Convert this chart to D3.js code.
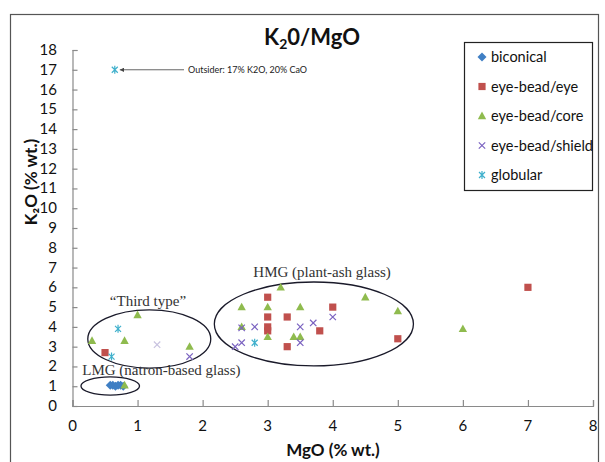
<!DOCTYPE html>
<html>
<head>
<meta charset="utf-8">
<script src="https://cdn.jsdelivr.net/npm/d3@7"></script>
<style>
  html, body { margin: 0; padding: 0; background: #fff; }
  svg { display: block; }
</style>
</head>
<body>
<svg id="chart" width="605" height="462"></svg>
<script>
// MgO vs K2O (% wt.) per bead group
const biconical = [[0.58, 1.05], [0.62, 1.05], [0.66, 1.0], [0.70, 1.05], [0.74, 1.05], [0.78, 1.0]];
const eyeBeadEye = [[0.5, 2.7], [3.0, 5.5], [3.0, 4.5], [3.3, 4.5], [4.0, 5.0], [3.0, 4.0], [3.0, 3.8],
                    [3.8, 3.8], [3.3, 3.0], [5.0, 3.4], [7.0, 6.0]];
const eyeBeadCore = [[0.8, 1.05], [0.3, 3.3], [0.8, 3.3], [1.0, 4.6], [1.8, 3.0], [3.2, 6.0], [4.5, 5.5],
                     [2.6, 5.0], [3.0, 5.0], [3.5, 5.0], [5.0, 4.8], [2.6, 4.0], [3.0, 3.5], [3.4, 3.5],
                     [3.5, 3.5], [6.0, 3.9]];
const eyeBeadShield = [[1.8, 2.5], [2.6, 3.95], [2.8, 4.0], [3.5, 4.0], [3.7, 4.2], [4.0, 4.5],
                       [2.6, 3.2], [3.5, 3.2], [2.5, 3.0]];
const eyeBeadShieldFaint = [[1.3, 3.1]];
const globular = [[0.65, 17.0], [0.7, 3.9], [0.6, 2.5], [2.8, 3.2]];

const xTicks = [0, 1, 2, 3, 4, 5, 6, 7, 8];
const yTicks = d3.range(0, 19);

// Group outlines (centre and radii in data units)
const groups = [
  { label: "\u201CThird type\u201D", cx: 1.18, cy: 3.39, rx: 0.945, ry: 1.47, lx: 1.16, ly: 5.05, anchor: "middle" },
  { label: "LMG (natron-based glass)", cx: 0.58, cy: 1.01, rx: 0.45, ry: 0.46, lx: 0.15, ly: 1.57, anchor: "start" },
  { label: "HMG (plant-ash glass)", cx: 3.71, cy: 4.15, rx: 1.53, ry: 2.12, lx: 2.78, ly: 6.5, anchor: "start" }
];

const series = [
  { name: "biconical", data: biconical, color: "#3f7fc4", shape: "diamond" },
  { name: "eye-bead/eye", data: eyeBeadEye, color: "#c0504d", shape: "square" },
  { name: "eye-bead/core", data: eyeBeadCore, color: "#8fbb4e", shape: "triangle" },
  { name: "eye-bead/shield", data: eyeBeadShield, color: "#7a62c0", shape: "cross" },
  { name: "globular", data: globular, color: "#3fb0cc", shape: "star" }
];

const svg = d3.select("#chart");
const sans = "Lato, 'Open Sans', sans-serif";
const serif = "'Liberation Serif', 'DejaVu Serif', serif";

// outer frame
svg.append("rect")
  .attr("x", 10.5).attr("y", 14.5).attr("width", 588).attr("height", 470)
  .attr("fill", "none").attr("stroke", "#555").attr("stroke-width", 1.2);

const x = d3.scaleLinear().domain([0, 8]).range([72.5, 593]);
const y = d3.scaleLinear().domain([0, 18]).range([406, 50]);

// axes (inside ticks)
const axisColor = "#8a8a8a";
const gx = svg.append("g").attr("transform", `translate(0,${y(0)})`)
  .call(d3.axisTop(x).tickValues(xTicks).tickSize(6).tickFormat(""));
const gy = svg.append("g").attr("transform", `translate(${x(0)},0)`)
  .call(d3.axisRight(y).tickValues(yTicks).tickSize(5).tickFormat(""));
[gx, gy].forEach(g => {
  g.selectAll("path").attr("stroke", axisColor).attr("stroke-width", 1.2);
  g.selectAll("line").attr("stroke", axisColor).attr("stroke-width", 1.2);
});

svg.append("g").selectAll("text").data(xTicks).join("text")
  .attr("x", d => x(d)).attr("y", 431)
  .attr("text-anchor", "middle")
  .attr("font-family", sans).attr("font-size", 15).attr("fill", "#111")
  .text(d => d);

svg.append("g").selectAll("text").data(yTicks).join("text")
  .attr("x", 57).attr("y", d => y(d) + 5)
  .attr("text-anchor", "end")
  .attr("font-family", sans).attr("font-size", 15).attr("fill", "#111")
  .text(d => d);

// title
const title = svg.append("text")
  .attr("x", 312).attr("y", 45).attr("text-anchor", "middle")
  .attr("font-family", sans).attr("font-weight", "bold").attr("font-size", 22).attr("fill", "#111");
title.append("tspan").text("K");
title.append("tspan").attr("font-size", 14).attr("dy", 4).text("2");
title.append("tspan").attr("dy", -4).text("0/MgO");

// axis titles
svg.append("text")
  .attr("x", 333).attr("y", 456).attr("text-anchor", "middle")
  .attr("font-family", sans).attr("font-weight", "bold").attr("font-size", 17).attr("fill", "#111")
  .text("MgO (% wt.)");

svg.append("text")
  .attr("transform", "translate(37,182) rotate(-90)")
  .attr("text-anchor", "middle")
  .attr("font-family", sans).attr("font-weight", "bold").attr("font-size", 17).attr("fill", "#111")
  .text("K\u2082O (% wt.)");

// group outlines and labels
const ann = svg.append("g");
ann.selectAll("ellipse").data(groups).join("ellipse")
  .attr("cx", d => x(d.cx)).attr("cy", d => y(d.cy))
  .attr("rx", d => x(d.rx) - x(0)).attr("ry", d => y(0) - y(d.ry))
  .attr("fill", "none").attr("stroke", "#1a1a2a").attr("stroke-width", 1.3);
ann.selectAll("text").data(groups).join("text")
  .attr("x", d => x(d.lx)).attr("y", d => y(d.ly))
  .attr("text-anchor", d => d.anchor)
  .attr("font-family", serif).attr("font-size", 15).attr("fill", "#333")
  .text(d => d.label);

// marker shapes
function markerPath(shape) {
  switch (shape) {
    case "diamond": return "M0,-4.5L4.5,0L0,4.5L-4.5,0Z";
    case "square": return "M-3.6,-3.6H3.6V3.6H-3.6Z";
    case "triangle": return "M0,-4.4L4.2,3.2H-4.2Z";
    case "cross": return "M-3.2,-3.2L3.2,3.2M-3.2,3.2L3.2,-3.2";
    case "star": return "M-3,-3L3,3M-3,3L3,-3M0,-4V4";
  }
}
function styleMarker(sel, s) {
  if (s.shape === "cross" || s.shape === "star") {
    sel.attr("fill", "none").attr("stroke", s.color).attr("stroke-width", 1.2);
  } else {
    sel.attr("fill", s.color).attr("stroke", "none");
  }
}

const plot = svg.append("g");
series.forEach(s => {
  const m = plot.append("g").selectAll("path").data(s.data).join("path")
    .attr("transform", d => `translate(${x(d[0])},${y(d[1])})`)
    .attr("d", markerPath(s.shape));
  styleMarker(m, s);
});
// faint shield measurement
plot.append("g").selectAll("path").data(eyeBeadShieldFaint).join("path")
  .attr("transform", d => `translate(${x(d[0])},${y(d[1])})`)
  .attr("d", markerPath("cross"))
  .attr("fill", "none").attr("stroke", "#c9c3e0").attr("stroke-width", 1.2);

// outsider callout
const outsider = globular[0];
svg.append("defs").append("marker")
  .attr("id", "arrow").attr("viewBox", "0 0 10 10").attr("refX", 10).attr("refY", 5)
  .attr("markerWidth", 5).attr("markerHeight", 5).attr("orient", "auto-start-reverse")
  .append("path").attr("d", "M0,0L10,5L0,10Z").attr("fill", "#444");
svg.append("line")
  .attr("x1", 184).attr("y1", y(outsider[1])).attr("x2", x(outsider[0]) + 5).attr("y2", y(outsider[1]))
  .attr("stroke", "#555").attr("stroke-width", 0.9).attr("marker-end", "url(#arrow)");
svg.append("text")
  .attr("x", 188).attr("y", y(outsider[1]) + 3)
  .attr("font-family", sans).attr("font-size", 9).attr("fill", "#222")
  .text("Outsider: 17% K2O, 20% CaO");

// legend
const legend = svg.append("g");
legend.append("rect")
  .attr("x", 464.5).attr("y", 42.5).attr("width", 128).attr("height", 148)
  .attr("fill", "#fff").attr("stroke", "#222").attr("stroke-width", 1.2);
series.forEach((s, i) => {
  const ly = 57 + i * 29.5;
  const m = legend.append("path")
    .attr("transform", `translate(482,${ly})`)
    .attr("d", markerPath(s.shape));
  styleMarker(m, s);
  legend.append("text")
    .attr("x", 491).attr("y", ly + 5)
    .attr("font-family", sans).attr("font-size", 14.5).attr("fill", "#111")
    .text(s.name);
});
</script>
</body>
</html>
